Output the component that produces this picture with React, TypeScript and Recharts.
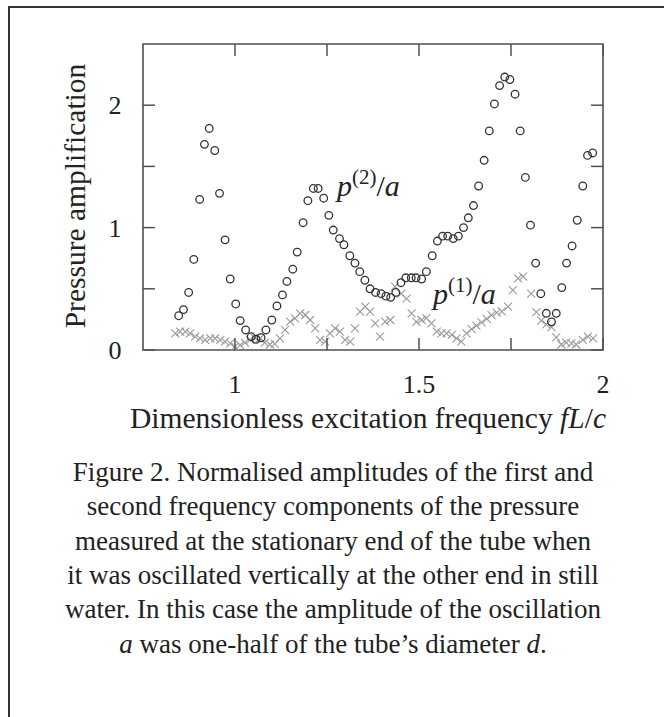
import { ScatterChart, Scatter, XAxis, YAxis, ReferenceArea } from 'recharts';

// second harmonic (open circles)
const p2Freq = [
  0.847, 0.86, 0.874, 0.888, 0.904, 0.917, 0.93, 0.945, 0.958, 0.973, 0.987, 1.002, 1.014, 1.029, 1.044,
  1.057, 1.071, 1.084, 1.1, 1.114, 1.129, 1.141, 1.157, 1.169, 1.185, 1.198, 1.213, 1.226, 1.241, 1.255,
  1.267, 1.284, 1.296, 1.312, 1.326, 1.339, 1.353, 1.367, 1.382, 1.397, 1.41, 1.423, 1.437, 1.451, 1.464,
  1.479, 1.492, 1.507, 1.52, 1.536, 1.55, 1.564, 1.578, 1.593, 1.607, 1.621, 1.634, 1.648, 1.662, 1.677,
  1.691, 1.705, 1.719, 1.733, 1.747, 1.761, 1.775, 1.789, 1.803, 1.817, 1.831, 1.846, 1.86, 1.873, 1.888,
  1.901, 1.916, 1.93, 1.945, 1.958, 1.972,
];
const p2Amp = [
  0.28, 0.33, 0.47, 0.74, 1.23, 1.68, 1.81, 1.63, 1.28, 0.9, 0.58, 0.376, 0.24, 0.164, 0.109,
  0.088, 0.1, 0.164, 0.245, 0.36, 0.45, 0.56, 0.66, 0.8, 1.04, 1.22, 1.32, 1.32, 1.24, 1.1,
  0.98, 0.91, 0.86, 0.77, 0.71, 0.64, 0.57, 0.5, 0.47, 0.46, 0.44, 0.43, 0.47, 0.55, 0.59,
  0.59, 0.59, 0.58, 0.64, 0.77, 0.89, 0.93, 0.93, 0.91, 0.93, 1.0, 1.08, 1.18, 1.34, 1.55,
  1.79, 2.01, 2.16, 2.23, 2.21, 2.09, 1.79, 1.41, 1.02, 0.71, 0.46, 0.3, 0.23, 0.3, 0.51,
  0.71, 0.85, 1.06, 1.34, 1.59, 1.61,
];

// first harmonic (grey crosses)
const p1Freq = [
  0.838, 0.851, 0.865, 0.878, 0.892, 0.905, 0.919, 0.933, 0.946, 0.96, 0.973, 0.987, 1.0, 1.014, 1.027,
  1.041, 1.054, 1.068, 1.081, 1.095, 1.108, 1.122, 1.136, 1.15, 1.163, 1.177, 1.191, 1.204, 1.218, 1.231,
  1.245, 1.258, 1.272, 1.285, 1.299, 1.313, 1.326, 1.34, 1.354, 1.367, 1.381, 1.394, 1.408, 1.422, 1.435,
  1.452, 1.466, 1.48, 1.493, 1.507, 1.52, 1.534, 1.548, 1.561, 1.575, 1.589, 1.602, 1.615, 1.629, 1.643,
  1.656, 1.67, 1.684, 1.697, 1.711, 1.725, 1.742, 1.755, 1.769, 1.783, 1.805, 1.819, 1.832, 1.846, 1.86,
  1.873, 1.887, 1.9, 1.914, 1.927, 1.945, 1.959, 1.973,
];
const p1Amp = [
  0.136, 0.15, 0.15, 0.136, 0.109, 0.095, 0.082, 0.095, 0.095, 0.082, 0.068, 0.055, 0.027, 0.04, 0.06,
  0.082, 0.1, 0.095, 0.06, 0.045, 0.05, 0.095, 0.164, 0.231, 0.259, 0.3, 0.286, 0.245, 0.177, 0.082,
  0.068, 0.136, 0.177, 0.15, 0.082, 0.068, 0.177, 0.313, 0.354, 0.313, 0.218, 0.109, 0.231, 0.245, 0.518,
  0.46, 0.42, 0.3, 0.23, 0.245, 0.26, 0.218, 0.15, 0.136, 0.136, 0.123, 0.095, 0.068, 0.136, 0.17,
  0.2, 0.225, 0.255, 0.285, 0.305, 0.315, 0.354, 0.49, 0.586, 0.6, 0.46, 0.31, 0.24, 0.21, 0.186,
  0.104, 0.045, 0.06, 0.055, 0.045, 0.082, 0.109, 0.095,
];

const xTicks = [1, 1.25, 1.5, 1.75, 2];
const xLabels = [1, 1.5, 2];
const yTicks = [0, 0.5, 1, 1.5, 2];
const yLabels = [0, 1, 2];

const p2Points = p2Freq.map((f, i) => ({ f, amp: p2Amp[i] }));
const p1Points = p1Freq.map((f, i) => ({ f, amp: p1Amp[i] }));

const SERIF = '"Liberation Serif", "Times New Roman", serif';
const TOP = 44;
const LEFT = 143;
const RIGHT = 603;
const AXIS = '#505050';

const XTick = ({ x, y, payload }: any) => (
  <g>
    <line x1={x} y1={y} x2={x} y2={y - 12} stroke={AXIS} strokeWidth={1.5} />
    <line x1={x} y1={TOP} x2={x} y2={TOP + 12} stroke={AXIS} strokeWidth={1.5} />
    {xLabels.includes(payload.value) && (
      <text x={x} y={y + 43} textAnchor="middle" fontSize={26} fontFamily={SERIF} fill="#222">
        {payload.value}
      </text>
    )}
  </g>
);

const YTick = ({ y, payload }: any) => (
  <g>
    <line x1={LEFT} y1={y} x2={LEFT + 12} y2={y} stroke={AXIS} strokeWidth={1.5} />
    <line x1={RIGHT} y1={y} x2={RIGHT - 12} y2={y} stroke={AXIS} strokeWidth={1.5} />
    {yLabels.includes(payload.value) && (
      <text x={115} y={y + 9} textAnchor="middle" fontSize={26} fontFamily={SERIF} fill="#222">
        {payload.value}
      </text>
    )}
  </g>
);

const Ring = ({ cx, cy }: any) => (
  <circle cx={cx} cy={cy} r={3.8} fill="none" stroke="#333" strokeWidth={1.3} />
);

const Cross = ({ cx, cy }: any) => (
  <path
    d={`M${cx - 4},${cy - 4}L${cx + 4},${cy + 4}M${cx - 4},${cy + 4}L${cx + 4},${cy - 4}`}
    stroke="#9a9a9a"
    strokeWidth={1.1}
    fill="none"
  />
);

const caption = [
  'Figure 2. Normalised amplitudes of the first and',
  'second frequency components of the pressure',
  'measured at the stationary end of the tube when',
  'it was oscillated vertically at the other end in still',
  'water. In this case the amplitude of the oscillation',
];

export default function App() {
  return (
    <div style={{ position: 'absolute', left: 0, top: 0, width: 664, height: 717, background: '#fff', overflow: 'hidden' }}>
      <div
        style={{
          position: 'absolute',
          left: 8,
          top: 6,
          width: 656,
          height: 711,
          borderTop: '2px solid #333',
          borderLeft: '2px solid #333',
          boxSizing: 'border-box',
        }}
      />
      <div style={{ position: 'absolute', left: 0, top: 0 }}>
        <ScatterChart width={664} height={440} margin={{ top: 44, right: 61, bottom: 60, left: 83 }}>
          <XAxis
            type="number"
            dataKey="f"
            domain={[0.75, 2]}
            ticks={xTicks}
            interval={0}
            axisLine={false}
            tickLine={false}
            tickSize={0}
            tickMargin={0}
            height={30}
            tick={<XTick />}
          />
          <YAxis
            type="number"
            dataKey="amp"
            domain={[0, 2.5]}
            ticks={yTicks}
            interval={0}
            axisLine={false}
            tickLine={false}
            tickSize={0}
            tickMargin={0}
            width={60}
            tick={<YTick />}
          />
          <ReferenceArea x1={0.75} x2={2} y1={0} y2={2.5} fill="none" stroke={AXIS} strokeWidth={1.6} />
          <Scatter data={p1Points} shape={<Cross />} isAnimationActive={false} />
          <Scatter data={p2Points} shape={<Ring />} isAnimationActive={false} />
        </ScatterChart>
      </div>
      <svg width={664} height={717} style={{ position: 'absolute', left: 0, top: 0, pointerEvents: 'none' }}>
        <g fontFamily={SERIF} fill="#222">
          <text x={337} y={196} fontSize={30}>
            <tspan fontStyle="italic">p</tspan>
            <tspan fontSize={21} dy={-12}>(2)</tspan>
            <tspan dy={12}>/</tspan>
            <tspan fontStyle="italic">a</tspan>
          </text>
          <text x={433} y={304} fontSize={30}>
            <tspan fontStyle="italic">p</tspan>
            <tspan fontSize={21} dy={-12}>(1)</tspan>
            <tspan dy={12}>/</tspan>
            <tspan fontStyle="italic">a</tspan>
          </text>
          <text x={0} y={0} fontSize={29.5} textAnchor="middle" transform="translate(85,196) rotate(-90)">
            Pressure amplification
          </text>
          <text x={368} y={428} fontSize={29.5} textAnchor="middle">
            Dimensionless excitation frequency <tspan fontStyle="italic">fL</tspan>/<tspan fontStyle="italic">c</tspan>
          </text>
          {caption.map((line, i) => (
            <text key={i} x={333} y={481 + i * 34.3} fontSize={27} textAnchor="middle">
              {line}
            </text>
          ))}
          <text x={333} y={481 + 5 * 34.3} fontSize={27} textAnchor="middle">
            <tspan fontStyle="italic">a</tspan> was one-half of the tube’s diameter <tspan fontStyle="italic">d</tspan>.
          </text>
        </g>
      </svg>
    </div>
  );
}
